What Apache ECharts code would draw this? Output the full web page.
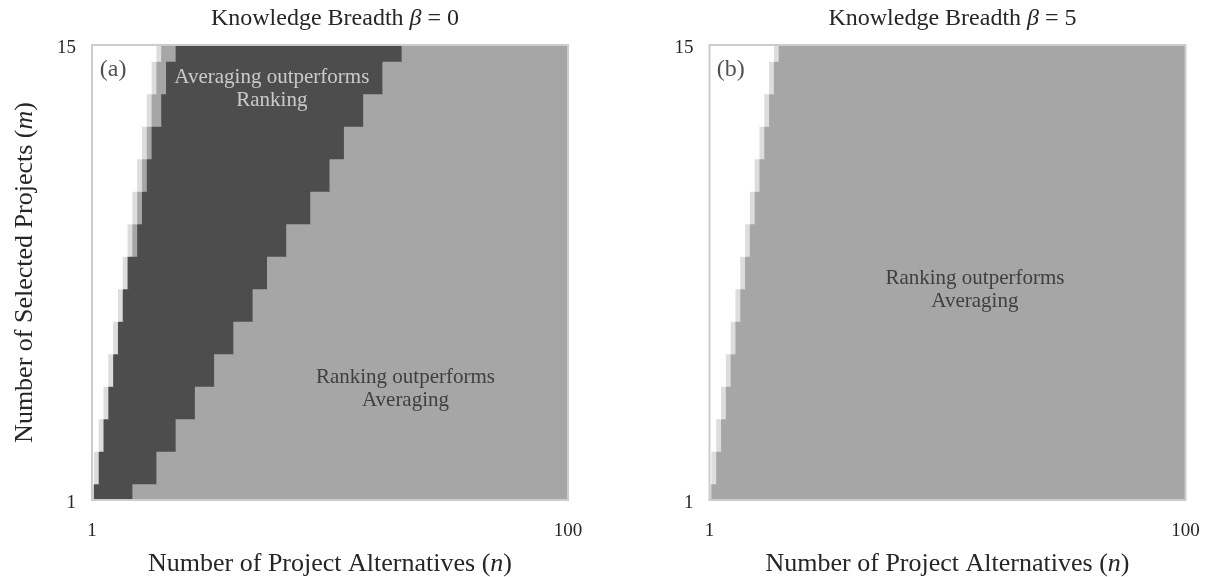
<!DOCTYPE html>
<html>
<head>
<meta charset="utf-8">
<script src="https://cdn.jsdelivr.net/npm/echarts@6/dist/echarts.min.js"></script>
<style>
html,body{margin:0;padding:0;background:#fff;}
#chart{width:1205px;height:577px;}
</style>
</head>
<body>
<div id="chart"></div>
<script>
// ---- data ----
const nMin = 1, nMax = 100;
const mValues = [1,2,3,4,5,6,7,8,9,10,11,12,13,14,15];
const xTickLabels = [1, 100];
const yTickLabels = [1, 15];
// panel (a): beta = 0
const aTieN    = [1,2,3,4,5,6,7,8,9,10,11,12,13,14,15];      // n where both methods tie (light grey); n below is infeasible (white)
const aAvgFrom = [2,3,4,5,6,7,8,9,11,12,13,14,16,17,19];     // first n where Averaging outperforms Ranking
const aAvgTo   = [9,14,18,22,26,30,34,37,41,46,50,53,57,61,65]; // last n where Averaging outperforms Ranking
// panel (b): beta = 5
const bTieN    = [1,2,3,4,5,6,7,8,9,10,11,12,13,14,15];
const titles = ['Knowledge Breadth {i|β} = 0', 'Knowledge Breadth {i|β} = 5'];
const panelTags = ['(a)', '(b)'];
const notesA = [
  {n: 38.4, m: 13.65, text: 'Averaging outperforms\nRanking', light: true},
  {n: 66.2, m: 4.42, text: 'Ranking outperforms\nAveraging', light: false}
];
const notesB = [
  {n: 56.2, m: 7.47, text: 'Ranking outperforms\nAveraging', light: false}
];

const COLORS = {white: '#ffffff', tie: '#dddddd', rank: '#a6a6a6', avg: '#4d4d4d'};
const TEXT = '#262626';
const FONT = "'Liberation Serif', 'DejaVu Serif', serif";

function buildSegments(tie, avgFrom, avgTo) {
  const segs = [];
  mValues.forEach(function (m, i) {
    const t = tie[i];
    if (t > nMin) segs.push([nMin, t - 1, m, 'white']);
    segs.push([t, t, m, 'tie']);
    if (avgFrom) {
      if (avgFrom[i] > t + 1) segs.push([t + 1, avgFrom[i] - 1, m, 'rank']);
      segs.push([avgFrom[i], avgTo[i], m, 'avg']);
      if (avgTo[i] < nMax) segs.push([avgTo[i] + 1, nMax, m, 'rank']);
    } else {
      if (t < nMax) segs.push([t + 1, nMax, m, 'rank']);
    }
  });
  return segs;
}

const segA = buildSegments(aTieN, aAvgFrom, aAvgTo);
const segB = buildSegments(bTieN, null, null);
const segData = [segA, segB];

function renderCell(params, api) {
  const n0 = api.value(0), n1 = api.value(1), m = api.value(2);
  const cat = segData[params.seriesIndex][params.dataIndex][3];
  const p1 = api.coord([n0 - 0.5, m + 0.5]);
  const p2 = api.coord([n1 + 0.5, m - 0.5]);
  const ex = 0.5;
  const rect = echarts.graphic.clipRectByRect(
    {x: p1[0] - ex, y: p1[1] - ex, width: p2[0] - p1[0] + 2 * ex, height: p2[1] - p1[1] + 2 * ex},
    {x: params.coordSys.x, y: params.coordSys.y, width: params.coordSys.width, height: params.coordSys.height}
  );
  if (!rect) return;
  return {
    type: 'rect',
    shape: rect,
    style: {fill: COLORS[cat]}
  };
}

const grids = [
  {left: 92, top: 45, width: 476, height: 455},
  {left: 709.5, top: 45, width: 476, height: 455}
];

function makeGrid(g) {
  return Object.assign({show: true, z: 10, backgroundColor: 'transparent', borderColor: '#cccccc', borderWidth: 2,
    containLabel: false, outerBoundsMode: 'none'}, g);
}

const nameStyle = {fontFamily: FONT, fontSize: 26, color: TEXT,
  rich: {i: {fontFamily: FONT, fontStyle: 'italic', fontSize: 26, color: TEXT}}};

function xAxis(idx) {
  return {
    type: 'value', gridIndex: idx, min: nMin, max: nMax,
    splitLine: {show: false}, axisTick: {show: false},
    axisLine: {show: false},
    axisLabel: {customValues: xTickLabels, margin: 22, fontFamily: FONT, fontSize: 19, color: TEXT},
    name: 'Number of Project Alternatives ({i|n})',
    nameLocation: 'middle', nameGap: 51,
    nameTextStyle: nameStyle
  };
}
function yAxis(idx) {
  return {
    type: 'value', gridIndex: idx, min: mValues[0], max: mValues[mValues.length - 1],
    splitLine: {show: false}, axisTick: {show: false},
    axisLine: {show: false},
    axisLabel: {customValues: yTickLabels, margin: 16, fontFamily: FONT, fontSize: 19, color: TEXT,
      verticalAlign: 'top', lineHeight: 6},
    name: idx === 0 ? 'Number of Selected Projects ({i|m})' : '',
    nameLocation: 'middle', nameGap: 54, nameRotate: 90,
    nameTextStyle: nameStyle
  };
}

function noteSeries(idx, notes) {
  const data = notes.map(function (d) {
    return {value: [d.n, d.m], label: {color: d.light ? '#e8e8e8' : TEXT}};
  });
  return {
    type: 'scatter', xAxisIndex: idx, yAxisIndex: idx, symbolSize: 1, z: 20,
    itemStyle: {color: 'transparent'}, silent: true,
    data: data,
    label: {
      show: true, position: 'inside', fontFamily: FONT, fontSize: 21, lineHeight: 23, align: 'center',
      formatter: function (p) { return notes[p.dataIndex].text; }
    }
  };
}
function tagSeries(idx, tag) {
  return {
    type: 'scatter', xAxisIndex: idx, yAxisIndex: idx, symbolSize: 1, z: 20,
    itemStyle: {color: 'transparent'}, silent: true,
    data: [[5.4, 14.23]],
    label: {show: true, position: 'inside', formatter: tag, fontFamily: FONT, fontSize: 24, color: TEXT}
  };
}

const option = {
  backgroundColor: '#ffffff',
  animation: false,
  title: titles.map(function (t, i) {
    return {
      text: t, left: grids[i].left + grids[i].width / 2, top: 2, textAlign: 'center',
      textStyle: {fontFamily: FONT, fontSize: 24, fontWeight: 'normal', color: TEXT,
        rich: {i: {fontFamily: FONT, fontStyle: 'italic', fontSize: 24, color: TEXT}}}
    };
  }),
  grid: grids.map(makeGrid),
  xAxis: [xAxis(0), xAxis(1)],
  yAxis: [yAxis(0), yAxis(1)],
  series: [
    {type: 'custom', xAxisIndex: 0, yAxisIndex: 0, data: segA, renderItem: renderCell, encode: {x: [0, 1], y: 2}, silent: true},
    {type: 'custom', xAxisIndex: 1, yAxisIndex: 1, data: segB, renderItem: renderCell, encode: {x: [0, 1], y: 2}, silent: true},
    noteSeries(0, notesA),
    noteSeries(1, notesB),
    tagSeries(0, panelTags[0]),
    tagSeries(1, panelTags[1])
  ]
};

const chart = echarts.init(document.getElementById('chart'), null, {renderer: 'canvas'});
chart.setOption(option);
</script>
</body>
</html>
